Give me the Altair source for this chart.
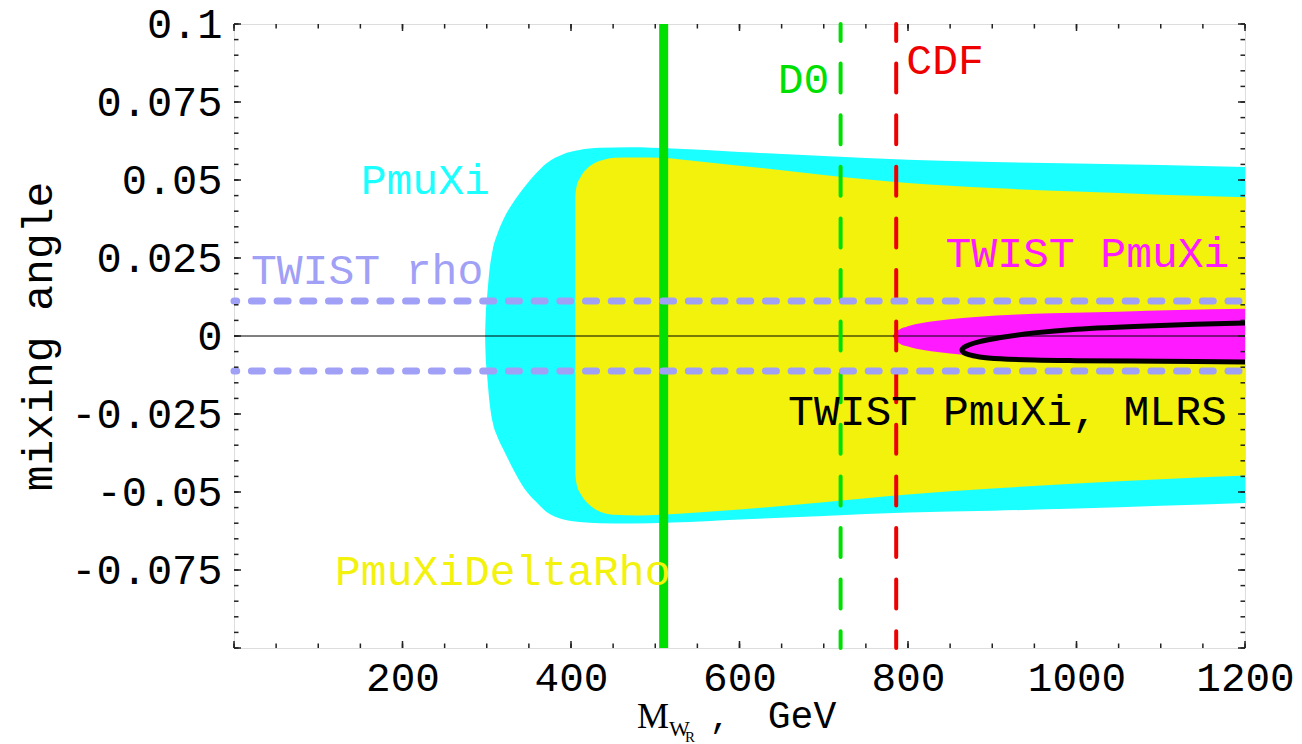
import altair as alt
import pandas as pd

# ---------------- values ----------------
# PmuXi allowed region (cyan): upper / lower boundary vs M_WR
cyan_x = [298, 299, 300, 303, 307, 313, 320, 332, 345, 358, 371, 390, 410, 434, 470, 520,
          600, 700, 800, 900, 1000, 1100, 1200]
cyan_hi = [0.0, 0.008, 0.0112, 0.0205, 0.0276, 0.033, 0.0375, 0.043, 0.0478, 0.052, 0.0554,
           0.0582, 0.0596, 0.0603, 0.0605, 0.0601, 0.0590, 0.0577, 0.0565, 0.0558, 0.0553,
           0.0548, 0.0542]
cyan_lo = [0.0, -0.008, -0.0112, -0.0205, -0.0276, -0.0325, -0.0365, -0.0430, -0.0490,
           -0.0530, -0.0564, -0.0587, -0.0596, -0.0600, -0.0601, -0.0598, -0.0588, -0.0577,
           -0.0566, -0.0560, -0.0553, -0.0544, -0.0535]

# PmuXiDeltaRho allowed region (yellow)
yel_x = [405, 406.6, 411.4, 418.9, 428.7, 440, 452, 480, 506, 550, 600, 700, 800, 900,
         1000, 1100, 1200]
yel_hi = [0.0446, 0.0479, 0.0510, 0.0536, 0.0555, 0.0566, 0.0571, 0.0572, 0.0571, 0.0560,
          0.0546, 0.0516, 0.0490, 0.0474, 0.0463, 0.0453, 0.0445]
yel_lo = [-0.0439, -0.0474, -0.0506, -0.0534, -0.0555, -0.0568, -0.0573, -0.0575, -0.0573,
          -0.0566, -0.0556, -0.0533, -0.0508, -0.0489, -0.0473, -0.0459, -0.0447]

# TWIST PmuXi region (magenta)
mag_x = [782, 785, 790, 800, 820, 850, 880, 930, 970, 1050, 1120, 1200]
mag_hi = [0.0, 0.0012, 0.0021, 0.0031, 0.0043, 0.0054, 0.0061, 0.0069, 0.0073, 0.0078,
          0.0083, 0.0087]
mag_lo = [0.0, -0.0013, -0.0024, -0.0034, -0.0046, -0.0056, -0.0063, -0.0070, -0.0074,
          -0.0079, -0.0082, -0.0085]

# TWIST PmuXi, MLRS contour (black)
mlrs_x = [1200, 1100, 1000, 950, 910, 885, 872, 866, 864, 866, 872, 885, 910, 950, 1000,
          1100, 1200]
mlrs_y = [0.0042, 0.0034, 0.0022, 0.0010, -0.0005, -0.0018, -0.0029, -0.0037, -0.0045,
          -0.0053, -0.0060, -0.0067, -0.0073, -0.0077, -0.0079, -0.0081, -0.0083]

# TWIST rho bounds (dashed lavender)
rho_y = [0.0112, -0.0112]
# vertical limits
solid_green_x = [510]
d0_x = [720]
cdf_x = [786]

# labels
label_text = ["PmuXi", "TWIST rho", "D0", "CDF", "TWIST PmuXi", "TWIST PmuXi, MLRS",
              "PmuXiDeltaRho"]
label_x = [227, 158, 676, 844, 1013, 918, 319]
label_y = [0.0497, 0.0207, 0.0822, 0.0883, 0.0263, -0.0245, -0.0758]

# axis tick labels
x_tick_labels = [200, 400, 600, 800, 1000, 1200]
y_tick_labels = [0.1, 0.075, 0.05, 0.025, 0, -0.025, -0.05, -0.075]
x_major = [0, 200, 400, 600, 800, 1000, 1200]
x_minor = list(range(0, 1201, 50))
y_major = [-0.1, -0.075, -0.05, -0.025, 0, 0.025, 0.05, 0.075, 0.1]
y_minor = [round(-0.1 + 0.005 * i, 3) for i in range(41)]

# ---------------- styles ----------------
CYAN = "#1affff"
YELLOW = "#f2f20d"
MAGENTA = "#ff1aff"
LAVENDER = "#a0a0f6"
GREEN = "#00e000"
RED = "#ee0000"
label_colors = [CYAN, LAVENDER, GREEN, RED, MAGENTA, "black", YELLOW]

W, H = 1011, 624
MONO = "Liberation Mono"
TICKFONT = "Liberation Mono"

xscale = alt.Scale(domain=[0, 1200], nice=False, zero=False)
yscale = alt.Scale(domain=[-0.1, 0.1], nice=False, zero=False)

xaxis = alt.Axis(values=x_tick_labels, ticks=False, domain=False, grid=False,
                 labelFont=TICKFONT, labelFontSize=41, labelColor="black",
                 labelPadding=10, labelFlush=False, labelOverlap=False, format="d",
                 title=None)
yaxis = alt.Axis(values=y_tick_labels, ticks=False, domain=False, grid=False,
                 labelFont=TICKFONT, labelFontSize=42, labelColor="black",
                 labelPadding=12, labelFlush=False, labelOverlap=False,
                 labelExpr="datum.value == 0 ? '0' : (datum.value < 0 ? '-' : '') + format(abs(datum.value), '~g')",
                 title="mixing angle", titleFont=MONO, titleFontSize=43,
                 titleFontWeight="normal", titleColor="black", titleX=-196, titleY=312,
                 titleAngle=270, titleAlign="center", titleBaseline="middle")


def X(f="x"):
    return alt.X(f"{f}:Q", scale=xscale, axis=xaxis)


def Y(f="y"):
    return alt.Y(f"{f}:Q", scale=yscale, axis=yaxis)


cyan = alt.Chart(pd.DataFrame({"x": cyan_x, "hi": cyan_hi, "lo": cyan_lo})).mark_area(
    color=CYAN, interpolate="monotone").encode(x=X(), y=Y("hi"), y2="lo")
yellow = alt.Chart(pd.DataFrame({"x": yel_x, "hi": yel_hi, "lo": yel_lo})).mark_area(
    color=YELLOW, interpolate="monotone").encode(x=X(), y=Y("hi"), y2="lo")
magenta = alt.Chart(pd.DataFrame({"x": mag_x, "hi": mag_hi, "lo": mag_lo})).mark_area(
    color=MAGENTA, interpolate="monotone").encode(x=X(), y=Y("hi"), y2="lo")

mlrs = alt.Chart(pd.DataFrame({"x": mlrs_x, "y": mlrs_y, "i": list(range(len(mlrs_x)))})).mark_line(
    color="black", strokeWidth=5, interpolate="catmull-rom").encode(x=X(), y=Y(), order="i:Q")

zero = alt.Chart(pd.DataFrame({"y": [0]})).mark_rule(color="black", strokeWidth=1).encode(y=Y())

green_solid = alt.Chart(pd.DataFrame({"x": solid_green_x})).mark_rule(
    color=GREEN, strokeWidth=9).encode(x=X())
d0 = alt.Chart(pd.DataFrame({"x": d0_x})).mark_rule(
    color=GREEN, strokeWidth=4, strokeDash=[29, 22.6], strokeDashOffset=12,
    strokeCap="round").encode(x=X())
cdf = alt.Chart(pd.DataFrame({"x": cdf_x})).mark_rule(
    color=RED, strokeWidth=4, strokeDash=[29, 22.6], strokeDashOffset=12,
    strokeCap="round").encode(x=X())

rho = alt.Chart(pd.DataFrame({"y": rho_y})).mark_rule(
    color=LAVENDER, strokeWidth=7, strokeDash=[11, 14.7], strokeDashOffset=19.7,
    strokeCap="round").encode(y=Y())

labels = alt.Chart(pd.DataFrame({"label": label_text, "x": label_x, "y": label_y})).mark_text(
    font=MONO, fontSize=43, align="center", baseline="middle").encode(
    x=X(), y=Y(), text="label:N",
    color=alt.Color("label:N", scale=alt.Scale(domain=label_text, range=label_colors), legend=None))

# frame ticks (inward), Mathematica style
TC = "#222222"


def xticks(vals, length):
    df = pd.DataFrame({"x": vals})
    b = alt.Chart(df).mark_rule(color=TC, strokeWidth=1.5).encode(
        x=X(), y=alt.value(H), y2=alt.value(H - length))
    t = alt.Chart(df).mark_rule(color=TC, strokeWidth=1.5).encode(
        x=X(), y=alt.value(0), y2=alt.value(length))
    return [b, t]


def yticks(vals, length):
    df = pd.DataFrame({"y": vals})
    l = alt.Chart(df).mark_rule(color=TC, strokeWidth=1.5).encode(
        y=Y(), x=alt.value(0), x2=alt.value(length))
    r = alt.Chart(df).mark_rule(color=TC, strokeWidth=1.5).encode(
        y=Y(), x=alt.value(W), x2=alt.value(W - length))
    return [l, r]


ticks = xticks(x_minor, 4.5) + xticks(x_major, 7) + yticks(y_minor, 4.5) + yticks(y_major, 7)

# x-axis title: M_{W_R} , GeV
one = pd.DataFrame({"t": [0]})


def piece(text, px, py, font, size, align="left"):
    return alt.Chart(one).mark_text(text=text, font=font, fontSize=size, align=align,
                                    baseline="alphabetic", color="black").encode(
        x=alt.value(px), y=alt.value(py))


xtitle = [
    piece("M", 403, 704, "Liberation Serif", 36),
    piece("W", 435, 712, "Liberation Serif", 22),
    piece("R", 451, 718, "Liberation Serif", 15),
    piece(",", 486, 704, MONO, 34, "center"),
    piece("GeV", 568, 704, MONO, 38, "center"),
]

chart = alt.layer(
    cyan, yellow, magenta, mlrs, zero, green_solid, d0, cdf, rho, labels, *ticks, *xtitle
).properties(
    width=W, height=H,
    padding={"left": 226, "top": 16, "right": 49, "bottom": 96},
    autosize=alt.AutoSizeParams(type="none"),
).configure_view(stroke="#222222", strokeWidth=2).configure(background="white")

chart.save("out.html", embed_options={"renderer": "svg", "actions": False})
